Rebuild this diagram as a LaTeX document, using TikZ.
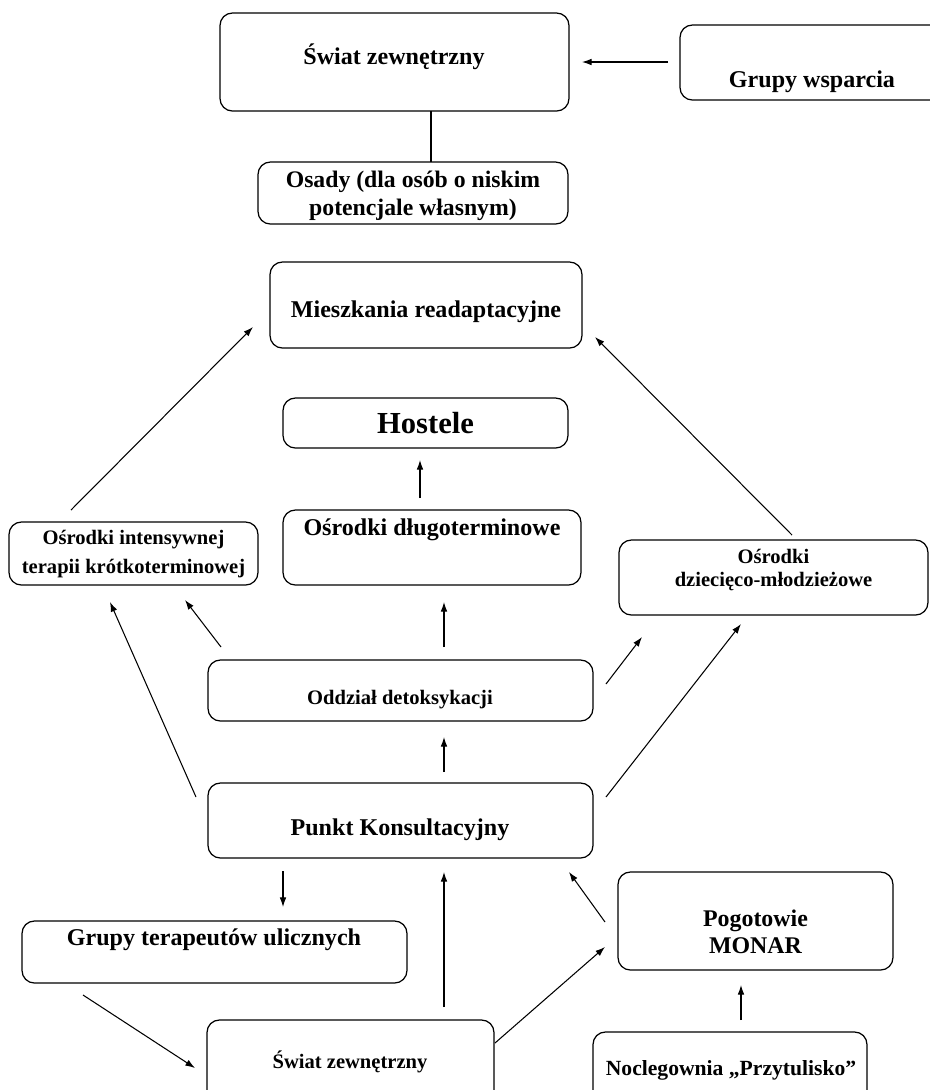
\documentclass[tikz,border=0pt]{standalone}
\usepackage{fontspec}
\setmainfont{Liberation Serif}
\usepackage{tikz}
\usetikzlibrary{
	positioning,
	arrows.meta
}

\tikzset{
	box/.style={draw,rounded corners=7pt,line width=0.7pt,inner sep=0pt,outer sep=0pt},
	lbl/.style={align=center,inner sep=0pt,font=\bfseries\fontsize{13.7}{16}\selectfont},
	lblsmall/.style={align=center,inner sep=0pt,font=\bfseries\fontsize{11.7}{14}\selectfont},
	flow/.style={-{Latex[length=5.5pt,width=3.8pt]},line width=0.6pt}
}

\begin{document}
\begin{tikzpicture}[x=0.02cm,y=-0.02cm]
	\useasboundingbox (0,0) rectangle (930,1090);

	% ramki
	\draw
		node [box,minimum width=6.98cm,minimum height=1.96cm] (swiatG)   at (394.5,62)   {}
		node [box,minimum width=5.6cm, minimum height=1.5cm]  (wsparcie) at (820,62.5)   {}
		node [box,minimum width=6.2cm, minimum height=1.24cm] (osady)    at (413,193)    {}
		node [box,minimum width=6.24cm,minimum height=1.72cm] (mieszk)   at (426,305)    {}
		node [box,minimum width=5.7cm, minimum height=1.0cm]  (hostele)  at (425.5,423)  {}
		node [box,minimum width=5.96cm,minimum height=1.5cm]  (dlugo)    at (432,547.5)  {}
		node [box,minimum width=4.98cm,minimum height=1.26cm] (intens)   at (133.5,553.5){}
		node [box,minimum width=6.18cm,minimum height=1.5cm]  (dzieci)   at (773.5,577.5){}
		node [box,minimum width=7.7cm, minimum height=1.22cm] (detox)    at (400.5,690.5){}
		node [box,minimum width=7.7cm, minimum height=1.5cm]  (punkt)    at (400.5,820.5){}
		node [box,minimum width=7.7cm, minimum height=1.24cm] (ulicz)    at (214.5,952)  {}
		node [box,minimum width=5.5cm, minimum height=1.96cm] (monar)    at (755.5,921)  {}
		node [box,minimum width=5.74cm,minimum height=1.8cm]  (swiatD)   at (350.5,1065) {}
		node [box,minimum width=5.48cm,minimum height=1.56cm] (nocleg)   at (730,1071)   {}
	;

	% napisy
	\draw
		node [lbl]                                                (swiatGt) at (394,57)    {Świat zewnętrzny}
		node [lbl]                                                (wsparciet) at (812,82) {Grupy wsparcia}
		node [lbl,font=\bfseries\fontsize{13.5}{15.9}\selectfont] (osadyt) at (413,196)  {Osady (dla osób o niskim\\potencjale własnym)}
		node [lbl]                                                (mieszkt) at (426,312)  {Mieszkania readaptacyjne}
		node [lbl,font=\bfseries\fontsize{17.4}{20}\selectfont]   (hostelet) at (425.5,423) {Hostele}
		node [lbl]                                                (dlugot) at (432,530)   {Ośrodki długoterminowe}
		node [lblsmall,font=\bfseries\fontsize{11.7}{16}\selectfont] (intenst) at (133.5,554) {Ośrodki intensywnej\\terapii krótkoterminowej}
		node [lblsmall,font=\bfseries\fontsize{11.7}{13.6}\selectfont] (dziecit) at (773.5,570) {Ośrodki\\dziecięco-młodzieżowe}
		node [lblsmall]                                           (detoxt) at (400,700)   {Oddział detoksykacji}
		node [lbl]                                                (punktt) at (400,830)   {Punkt Konsultacyjny}
		node [lbl]                                                (ulicztt) at (214,940)  {Grupy terapeutów ulicznych}
		node [lbl,font=\bfseries\fontsize{13.6}{15.3}\selectfont] (monart) at (755.5,931.5) {Pogotowie\\MONAR}
		node [lblsmall]                                           (swiatDt) at (350,1062) {Świat zewnętrzny}
		node [lbl,font=\bfseries\fontsize{12.3}{14}\selectfont]   (noclegt) at (731,1070) {Noclegownia „Przytulisko”}
	;

	% konce strzalek
	\coordinate (ws1) at (668,62);   \coordinate (ws2) at (582,62);
	\coordinate (os1) at (431,111);  \coordinate (os2) at (431,162);
	\coordinate (ho1) at (420,498);  \coordinate (ho2) at (420,460);
	\coordinate (im1) at (71,510);   \coordinate (im2) at (253,327);
	\coordinate (dm1) at (792,535);  \coordinate (dm2) at (595,337);
	\coordinate (di1) at (221,647);  \coordinate (di2) at (185,600);
	\coordinate (pi1) at (196,797);  \coordinate (pi2) at (110,602);
	\coordinate (dd1) at (444,647);  \coordinate (dd2) at (444,602);
	\coordinate (dz1) at (606,684);  \coordinate (dz2) at (642,637);
	\coordinate (pz1) at (606,797);  \coordinate (pz2) at (741,624);
	\coordinate (pd1) at (444,772);  \coordinate (pd2) at (444,737);
	\coordinate (pu1) at (283,871);  \coordinate (pu2) at (283,907);
	\coordinate (sp1) at (444,1007); \coordinate (sp2) at (444,872);
	\coordinate (mp1) at (605,922);  \coordinate (mp2) at (569,872);
	\coordinate (us1) at (83,995);   \coordinate (us2) at (195,1068);
	\coordinate (sm1) at (495,1043); \coordinate (sm2) at (605,947);
	\coordinate (nm1) at (741,1020); \coordinate (nm2) at (741,985);

	\draw
		(ws1) edge[flow]            (ws2)
		(os1) edge[line width=0.6pt] (os2)
		(ho1) edge[flow]            (ho2)
		(im1) edge[flow]            (im2)
		(dm1) edge[flow]            (dm2)
		(di1) edge[flow]            (di2)
		(pi1) edge[flow]            (pi2)
		(dd1) edge[flow]            (dd2)
		(dz1) edge[flow]            (dz2)
		(pz1) edge[flow]            (pz2)
		(pd1) edge[flow]            (pd2)
		(pu1) edge[flow]            (pu2)
		(sp1) edge[flow]            (sp2)
		(mp1) edge[flow]            (mp2)
		(us1) edge[flow]            (us2)
		(sm1) edge[flow]            (sm2)
		(nm1) edge[flow]            (nm2)
	;
\end{tikzpicture}
\end{document}
